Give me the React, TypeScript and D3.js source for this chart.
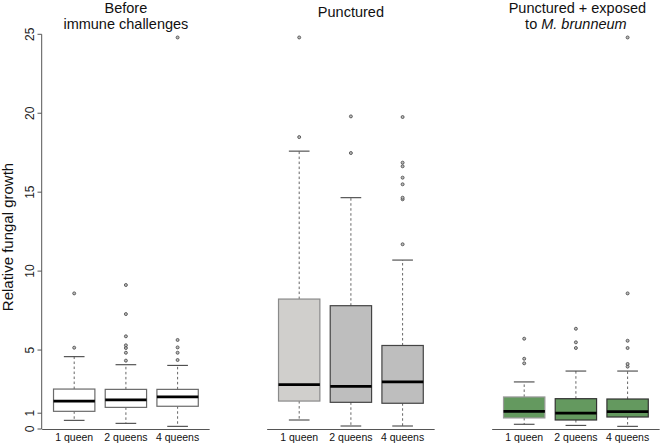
import React from "react";
import * as d3 from "d3";

interface BoxStat {
  lo: number;
  q1: number;
  med: number;
  q3: number;
  hi: number;
  out: number[];
}

const groups = ["1 queen", "2 queens", "4 queens"];
const panels = ["before", "punctured", "exposed"];
const yTicks = [0, 1, 5, 10, 15, 20, 25];

// values
const beforeStats: BoxStat[] = [
  { lo: 0.55, q1: 1.12, med: 1.77, q3: 2.53, hi: 4.58, out: [5.15, 8.59] },
  { lo: 0.36, q1: 1.37, med: 1.84, q3: 2.51, hi: 4.07, out: [4.33, 4.83, 5.13, 5.3, 5.87, 7.28, 9.12] },
  { lo: 0.17, q1: 1.44, med: 2.03, q3: 2.51, hi: 4.03, out: [4.37, 4.83, 5.17, 5.64, 24.8] },
];
const puncturedStats: BoxStat[] = [
  { lo: 0.57, q1: 1.77, med: 2.81, q3: 8.23, hi: 17.6, out: [18.49, 24.8] },
  { lo: 0.19, q1: 1.69, med: 2.7, q3: 7.81, hi: 14.65, out: [17.48, 19.8] },
  { lo: 0.19, q1: 1.63, med: 2.98, q3: 5.29, hi: 10.7, out: [11.7, 14.55, 14.65, 15.5, 15.92, 16.64, 16.87, 19.76] },
];
const exposedStats: BoxStat[] = [
  { lo: 0.3, q1: 0.7, med: 1.12, q3: 2.03, hi: 2.98, out: [4.16, 4.45, 5.72] },
  { lo: 0.23, q1: 0.57, med: 1.01, q3: 1.92, hi: 3.67, out: [5.13, 5.49, 6.35] },
  { lo: 0.17, q1: 0.76, med: 1.1, q3: 1.9, hi: 3.67, out: [3.95, 4.12, 5.13, 5.59, 8.59, 24.8] },
];

const allStats = [beforeStats, puncturedStats, exposedStats];

const fills = [
  ["#ffffff", "#ffffff", "#ffffff"],
  ["#d0cfcc", "#bebebe", "#bebebe"],
  ["#64995f", "#64995f", "#64995f"],
];
const borders = [
  ["#6a6a6a", "#6a6a6a", "#6a6a6a"],
  ["#8a8a8a", "#444444", "#444444"],
  ["#9a9a9a", "#333333", "#333333"],
];

const font = "'Liberation Sans', Arial, Helvetica, sans-serif";

const App: React.FC = () => {
  const width = 660;
  const height = 444;

  const panelX = d3.scaleBand().domain(panels).range([0, 675]);
  const x = d3.scaleLinear().domain([1, 3]).range([74.2, 177.6]);
  const y = d3.scaleLinear().domain([0, 25]).range([429, 34.3]);

  const unit = x(2) - x(1);
  const boxW = unit * 0.8;
  const stapleW = boxW * 0.5;

  return (
    <div style={{ position: "absolute", left: 0, top: 0 }}>
      <svg width={width} height={height} style={{ display: "block", background: "#fff" }} fontFamily={font}>
        {/* Y axis */}
        <g>
          <line x1={41.7} x2={41.7} y1={y(0)} y2={y(25)} stroke="#555" />
          {yTicks.map((t) => (
            <g key={t}>
              <line x1={37.5} x2={41.7} y1={y(t)} y2={y(t)} stroke="#555" />
              <text
                transform={`translate(33.5,${y(t)}) rotate(-90)`}
                textAnchor="middle"
                fontSize={12}
                fill="#222"
              >
                {t}
              </text>
            </g>
          ))}
          <text
            transform={`translate(12.5,237) rotate(-90)`}
            textAnchor="middle"
            fontSize={15}
            fill="#111"
          >
            Relative fungal growth
          </text>
        </g>

        {panels.map((p, pi) => {
          const ox = panelX(p)!;
          const stats = allStats[pi];
          const cx = ox + x(2);
          return (
            <g key={p}>
              {/* panel title */}
              {pi === 0 && (
                <text textAnchor="middle" fontSize={14.5} fill="#111">
                  <tspan x={cx} y={12.5}>Before</tspan>
                  <tspan x={cx} y={29}>immune challenges</tspan>
                </text>
              )}
              {pi === 1 && (
                <text x={cx} y={16.5} textAnchor="middle" fontSize={14.5} fill="#111">
                  Punctured
                </text>
              )}
              {pi === 2 && (
                <text textAnchor="middle" fontSize={14.5} fill="#111">
                  <tspan x={cx + 1.5} y={12.5}>Punctured + exposed</tspan>
                  <tspan x={cx} y={29}>
                    to <tspan fontStyle="italic">M. brunneum</tspan>
                  </tspan>
                </text>
              )}

              {/* bottom axis line */}
              <line
                x1={ox + x(0.38)}
                x2={ox + x(3.62)}
                y1={429.5}
                y2={429.5}
                stroke="#555"
              />

              {stats.map((s, gi) => {
                const bx = ox + x(gi + 1);
                return (
                  <g key={gi}>
                    {/* whiskers */}
                    <line x1={bx} x2={bx} y1={y(s.q3)} y2={y(s.hi)} stroke="#666" strokeDasharray="2.5,2.5" />
                    <line x1={bx} x2={bx} y1={y(s.q1)} y2={y(s.lo)} stroke="#666" strokeDasharray="2.5,2.5" />
                    <line x1={bx - stapleW / 2} x2={bx + stapleW / 2} y1={y(s.hi)} y2={y(s.hi)} stroke="#333" />
                    <line x1={bx - stapleW / 2} x2={bx + stapleW / 2} y1={y(s.lo)} y2={y(s.lo)} stroke="#333" />
                    {/* box */}
                    <rect
                      x={bx - boxW / 2}
                      y={y(s.q3)}
                      width={boxW}
                      height={y(s.q1) - y(s.q3)}
                      fill={fills[pi][gi]}
                      stroke={borders[pi][gi]}
                      strokeWidth={1.2}
                    />
                    <line
                      x1={bx - boxW / 2}
                      x2={bx + boxW / 2}
                      y1={y(s.med)}
                      y2={y(s.med)}
                      stroke="#000"
                      strokeWidth={2.8}
                    />
                    {/* outliers */}
                    {s.out.map((o, oi) => (
                      <circle key={oi} cx={bx} cy={y(o)} r={1.5} fill="#bbb" stroke="#444" strokeWidth={0.8} />
                    ))}
                    {/* group label */}
                    <text x={bx} y={441} textAnchor="middle" fontSize={10.5} fill="#111">
                      {groups[gi]}
                    </text>
                  </g>
                );
              })}
            </g>
          );
        })}
      </svg>
    </div>
  );
};

export default App;
